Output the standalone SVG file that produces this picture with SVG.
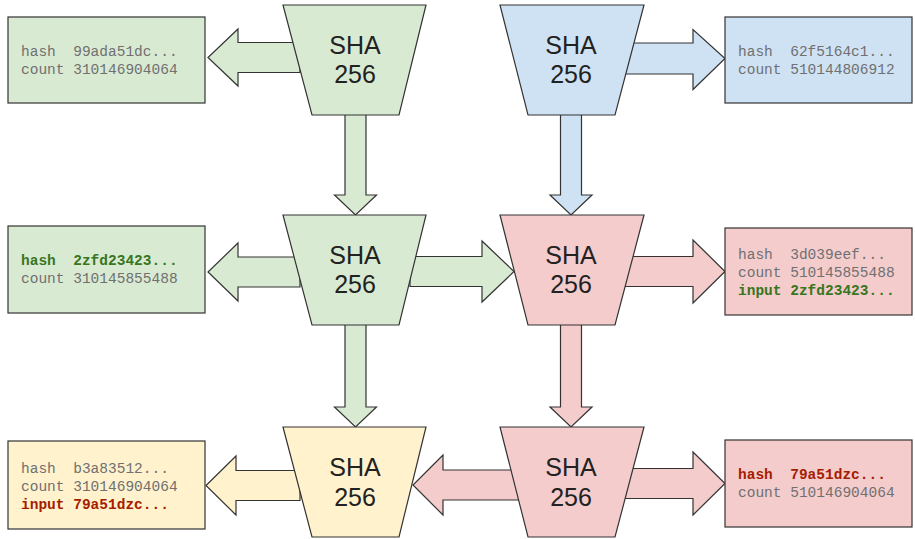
<svg xmlns="http://www.w3.org/2000/svg" width="915" height="539" viewBox="0 0 915 539">
<style>
.st{stroke:#333;stroke-width:1.2;stroke-linejoin:miter}
.g{fill:#d9ead3}.b{fill:#cfe2f3}.p{fill:#f4cccc}.y{fill:#fff2cc}
.sha{font-family:"Liberation Sans",Arial,sans-serif;font-size:25px;fill:#222;text-anchor:middle}
.mono{font-family:"Liberation Mono","Courier New",monospace;font-size:14.5px;fill:#707070;white-space:pre}
.gb{fill:#38761d;font-weight:bold}
.rb{fill:#a61c00;font-weight:bold}
</style>
<rect width="915" height="539" fill="#fff"/>
<g id="connectors">
<polygon class="st g" points="300,42.5 238,42.5 238,29 208,57.5 238,86 238,72.5 300,72.5"/>
<polygon class="st b" points="625,43 693,43 693,29.5 725,58.5 693,89.5 693,74 625,74"/>
<polygon class="st g" points="300,257 238,257 238,243 208,272 238,301 238,287 300,287"/>
<polygon class="st g" points="410,256.5 482,256.5 482,241 514,271.5 482,302 482,286.5 410,286.5"/>
<polygon class="st p" points="625,256.5 693,256.5 693,240 725,271.5 693,303 693,286.5 625,286.5"/>
<polygon class="st y" points="300,470.5 236,470.5 236,456 206,485.5 236,515 236,500.5 300,500.5"/>
<polygon class="st p" points="520,470 443,470 443,455 413,485 443,515 443,500 520,500"/>
<polygon class="st p" points="625,468.5 693,468.5 693,452 725,483.5 693,515 693,498.5 625,498.5"/>
<polygon class="st g" points="345,110 345,195 334.5,195 355.5,215 376.5,195 366,195 366,110"/>
<polygon class="st b" points="560.5,110 560.5,195 550,195 571,215 592,195 581.5,195 581.5,110"/>
<polygon class="st g" points="345,320 345,407 334.5,407 355.5,427 376.5,407 366,407 366,320"/>
<polygon class="st p" points="560.5,320 560.5,407 550,407 571,427 592,407 581.5,407 581.5,320"/>
</g>
<g id="sha-top-left">
<polygon class="st g" points="283,5 426,5 399,115 312,115"/>
<text class="sha" x="355" y="54">SHA</text><text class="sha" x="355" y="83">256</text>
</g>
<g id="sha-top-right">
<polygon class="st b" points="500,5 644,5 615,115 528,115"/>
<text class="sha" x="571" y="54">SHA</text><text class="sha" x="571" y="83">256</text>
</g>
<g id="sha-mid-left">
<polygon class="st g" points="283,215 426,215 399,325 312,325"/>
<text class="sha" x="355" y="264">SHA</text><text class="sha" x="355" y="293">256</text>
</g>
<g id="sha-mid-right">
<polygon class="st p" points="500,215 644,215 615,325 528,325"/>
<text class="sha" x="571" y="264">SHA</text><text class="sha" x="571" y="293">256</text>
</g>
<g id="sha-bottom-left">
<polygon class="st y" points="283,427 426,427 399,537 312,537"/>
<text class="sha" x="355" y="476">SHA</text><text class="sha" x="355" y="506">256</text>
</g>
<g id="sha-bottom-right">
<polygon class="st p" points="500,427 644,427 615,537 528,537"/>
<text class="sha" x="571" y="476">SHA</text><text class="sha" x="571" y="506">256</text>
</g>
<g id="box-top-left">
<rect class="st g" x="8" y="17" width="197" height="86"/>
<text class="mono" x="21" y="56" xml:space="preserve">hash  99ada51dc...</text>
<text class="mono" x="21" y="74" xml:space="preserve">count 310146904064</text>
</g>
<g id="box-top-right">
<rect class="st b" x="725" y="17" width="187" height="86"/>
<text class="mono" x="738" y="56" xml:space="preserve">hash  62f5164c1...</text>
<text class="mono" x="738" y="74" xml:space="preserve">count 510144806912</text>
</g>
<g id="box-mid-left">
<rect class="st g" x="8" y="226" width="197" height="87"/>
<text class="mono gb" x="21" y="265" xml:space="preserve">hash  2zfd23423...</text>
<text class="mono" x="21" y="283" xml:space="preserve">count 310145855488</text>
</g>
<g id="box-mid-right">
<rect class="st p" x="725" y="228" width="187" height="87"/>
<text class="mono" x="738" y="259" xml:space="preserve">hash  3d039eef...</text>
<text class="mono" x="738" y="277" xml:space="preserve">count 510145855488</text>
<text class="mono gb" x="738" y="295" xml:space="preserve">input 2zfd23423...</text>
</g>
<g id="box-bottom-left">
<rect class="st y" x="8" y="441" width="197" height="88"/>
<text class="mono" x="21" y="473" xml:space="preserve">hash  b3a83512...</text>
<text class="mono" x="21" y="491" xml:space="preserve">count 310146904064</text>
<text class="mono rb" x="21" y="509" xml:space="preserve">input 79a51dzc...</text>
</g>
<g id="box-bottom-right">
<rect class="st p" x="725" y="440" width="187" height="87"/>
<text class="mono rb" x="738" y="479" xml:space="preserve">hash  79a51dzc...</text>
<text class="mono" x="738" y="497" xml:space="preserve">count 510146904064</text>
</g>
</svg>
